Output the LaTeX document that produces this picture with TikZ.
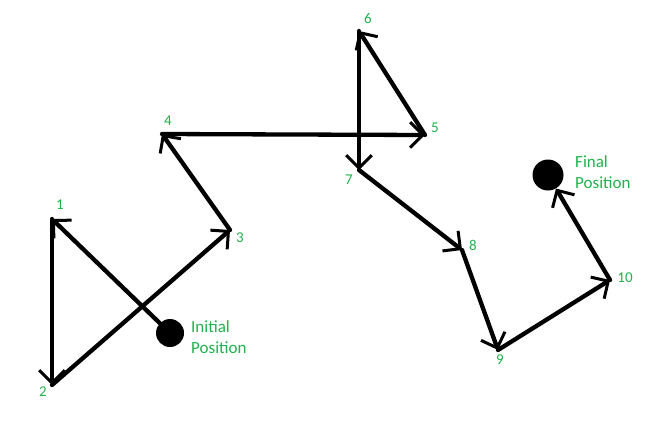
\documentclass[tikz,border=0pt]{standalone}
\usepackage{fontspec}
\setmainfont{Carlito}
\usetikzlibrary{arrows.meta}
\definecolor{lbl}{RGB}{34,177,76}
\begin{document}
\begin{tikzpicture}[x=1pt,y=-1pt,
  mv/.style={line width=4.3pt, line cap=round, -{Straight Barb[angle=90:18pt, line width=3pt]}},
  dot/.style={circle, fill=black, inner sep=0pt, minimum size=#1},
  num/.style={text=lbl, font=\fontsize{15}{17}\selectfont, inner sep=0pt},
  txt/.style={text=lbl, font=\fontsize{17}{21}\selectfont, align=left, anchor=west, inner sep=0pt}]
\useasboundingbox (0,0) rectangle (660,432);
\node[dot=28pt] (ini) at (170,333) {};
\node[dot=31pt] (fin) at (548,175) {};
\coordinate (p1) at (52,219);
\coordinate (p2) at (52,385);
\coordinate (p3) at (230,230);
\coordinate (p4) at (162,134);
\coordinate (p5) at (425,135);
\coordinate (p6) at (359,31);
\coordinate (p7) at (359,170);
\coordinate (p8) at (462,250);
\coordinate (p9) at (498,350);
\coordinate (p10) at (610,280);
\draw[mv] (ini) -- (p1);
\draw[mv] (p1) -- (p2);
\draw[mv] (p2) -- (p3);
\draw[mv] (p3) -- (p4);
\draw[mv] (p4) -- (p5);
\draw[mv] (p5) -- (p6);
\draw[mv] (p6) -- (p7);
\draw[mv] (p7) -- (p8);
\draw[mv] (p8) -- (p9);
\draw[mv] (p9) -- (p10);
\draw[mv] (p10) -- (fin);
\node[num] (l1) at (60,205) {1};
\node[num] (l2) at (43,392) {2};
\node[num] (l3) at (240,238) {3};
\node[num] (l4) at (168,121) {4};
\node[num] (l5) at (435,128) {5};
\node[num] (l6) at (368,18) {6};
\node[num] (l7) at (349,180) {7};
\node[num] (l8) at (473,245) {8};
\node[num] (l9) at (500,360) {9};
\node[num] (l10) at (625,278) {10};
\node[txt] (ti) at (191,337) {Initial\\Position};
\node[txt] (tf) at (575,172) {Final\\Position};
\end{tikzpicture}
\end{document}
